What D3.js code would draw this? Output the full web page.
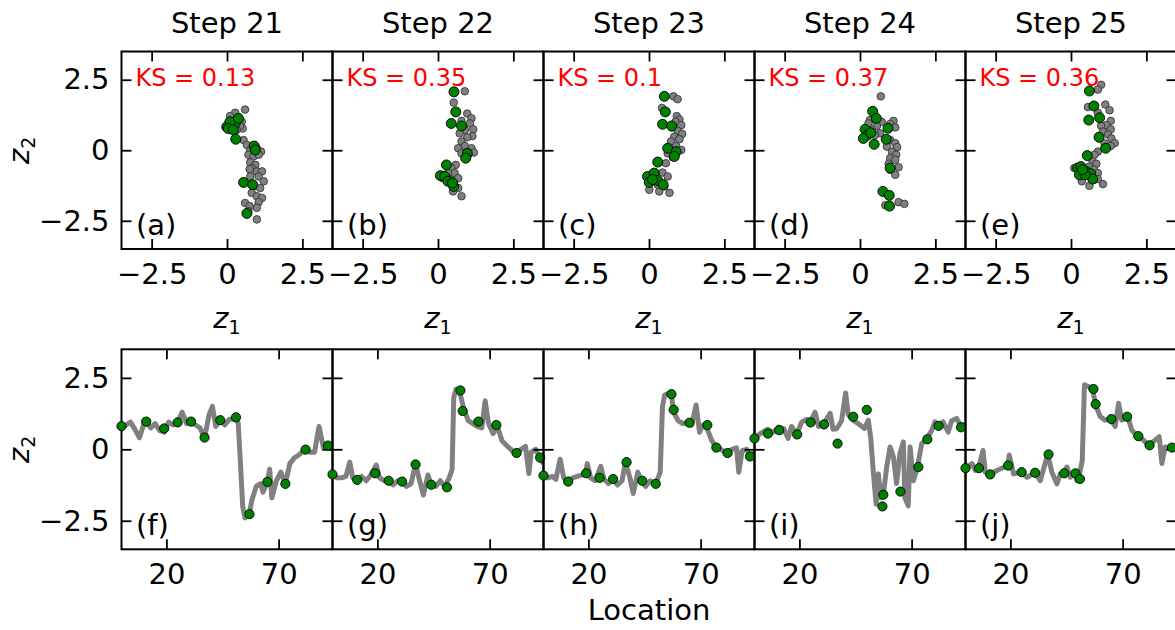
<!DOCTYPE html>
<html lang="en">
<head>
<meta charset="utf-8">
<script src="https://d3js.org/d3.v7.min.js"></script>
<style>
  body { margin: 0; background: #fff; }
  svg { display: block; font-family: "DejaVu Sans", sans-serif; }
</style>
</head>
<body>
<svg width="1175" height="630"></svg>
<script>
  // ---- data ----
  const stepTitles = ["Step 21", "Step 22", "Step 23", "Step 24", "Step 25"];
  const ksScores = [0.13, 0.35, 0.1, 0.37, 0.36];
  const topTags = ["(a)", "(b)", "(c)", "(d)", "(e)"];
  const bottomTags = ["(f)", "(g)", "(h)", "(i)", "(j)"];
  const latentTicks = [-2.5, 0, 2.5];
  const locationTicks = [20, 70];

  // latent scatter, [z1, z2]: all locations (grey) and sampled ones (green)
  const grayStep21 = [[0.60,1.44],[0.27,1.33],[0.10,1.21],[0.38,1.16],[0.49,1.01],[0.52,0.77],[0.16,0.81],[0.43,0.86],[0.55,0.36],[0.66,0.19],[0.77,0.01],[0.99,0.07],[1.13,-0.05],[0.71,-0.16],[0.88,-0.22],[1.05,-0.16],[0.77,-0.43],[0.94,-0.52],[0.82,-0.63],[0.75,-0.67],[0.99,-0.75],[1.16,-0.75],[0.77,-0.93],[1.05,-0.93],[1.22,-1.10],[0.88,-1.28],[1.10,-1.34],[0.82,-1.51],[0.99,-1.63],[1.16,-1.69],[1.05,-1.84],[0.60,-1.87],[0.99,-2.04],[0.75,-1.98],[0.71,-2.16],[0.99,-2.45],[0.38,1.07],[0.21,1.01],[0.04,0.95],[0.32,0.72]];
  const greenStep21 = [[-0.01,0.83],[0.27,0.95],[0.10,1.01],[0.38,1.13],[0.04,0.77],[0.21,0.72],[0.29,0.39],[0.90,0.15],[0.94,0.01],[0.55,-1.14],[0.85,-1.22],[0.66,-2.24]];

  const grayStep22 = [[0.89,2.09],[0.52,1.69],[0.97,1.30],[1.11,1.13],[0.78,1.04],[1.06,0.95],[1.17,0.74],[0.89,0.72],[0.72,0.60],[1.14,0.50],[0.97,0.46],[0.78,0.31],[0.89,0.15],[0.67,0.07],[1.11,0.07],[1.19,-0.08],[0.78,-0.11],[1.00,-0.16],[0.59,-0.52],[0.44,-0.63],[0.55,-0.81],[0.67,-0.99],[0.52,-1.16],[0.67,-1.34],[0.50,-1.46],[0.78,-1.63],[0.33,-0.81],[0.16,-0.99],[0.41,-1.04]];
  const greenStep22 = [[0.53,2.07],[0.59,1.36],[0.44,0.95],[0.78,0.86],[0.97,-0.11],[0.92,-0.28],[0.28,-0.52],[0.08,-0.90],[0.22,-0.93],[0.33,-1.10],[0.52,-1.28],[0.48,-1.16]];

  const grayStep23 = [[0.81,1.91],[0.95,1.81],[0.43,1.50],[0.92,1.21],[1.01,1.09],[0.88,1.01],[1.07,0.89],[0.76,0.81],[0.95,0.69],[1.10,0.58],[0.84,0.48],[1.01,0.39],[0.73,0.31],[0.90,0.15],[1.07,0.01],[0.62,-0.11],[0.79,-0.25],[0.56,-0.46],[0.45,-0.79],[0.62,-0.93],[0.12,-0.93],[0.01,-1.40],[0.34,-1.46],[0.68,-1.51],[0.51,-1.28],[0.29,-1.22]];
  const greenStep23 = [[0.51,1.91],[0.54,1.36],[0.45,0.92],[0.75,0.86],[0.62,0.07],[0.90,-0.05],[0.84,-0.22],[0.29,-0.42],[-0.05,-0.93],[0.17,-0.81],[0.01,-1.14],[0.29,-1.07],[0.47,-1.22],[0.12,-1.04]];

  const grayStep24 = [[0.69,1.91],[1.11,1.04],[1.00,0.93],[1.17,0.81],[0.72,1.01],[0.56,0.86],[0.39,0.74],[0.22,0.66],[0.67,0.60],[0.50,0.54],[1.00,0.36],[1.17,0.25],[0.89,0.13],[1.23,0.11],[1.06,-0.05],[1.20,-0.16],[1.00,-0.28],[1.17,-0.34],[0.95,-0.48],[1.28,-0.60],[1.00,-0.69],[1.17,-0.87],[0.84,-1.95],[1.28,-1.84],[1.47,-1.90],[0.33,1.07],[0.28,0.95]];
  const greenStep24 = [[0.42,1.38],[0.54,1.13],[0.93,0.78],[0.17,0.74],[0.25,0.54],[0.11,0.42],[0.36,0.62],[0.87,0.39],[0.47,0.21],[1.00,-0.63],[0.76,-1.46],[0.97,-1.60],[0.98,-1.98]];

  const grayStep25 = [[1.00,2.32],[0.89,2.15],[0.56,1.53],[1.14,1.62],[1.28,1.42],[0.89,1.33],[1.32,1.04],[1.17,0.89],[1.00,0.86],[1.32,0.74],[1.06,0.66],[1.23,0.56],[0.91,0.48],[1.34,0.42],[1.45,0.25],[1.11,0.25],[1.32,0.15],[0.89,-0.05],[0.78,-0.16],[0.72,-0.40],[0.84,-0.48],[0.61,-0.58],[0.76,-0.69],[0.89,-0.81],[0.78,-1.04],[0.36,-1.10],[0.61,-1.26],[1.06,-1.20],[0.89,-1.02],[0.11,-0.63]];
  const greenStep25 = [[0.61,2.10],[0.76,1.57],[0.59,1.07],[0.95,1.15],[0.93,0.46],[1.15,0.07],[0.54,-0.19],[0.22,-0.63],[0.33,-0.58],[0.28,-0.87],[0.50,-0.75],[0.65,-0.83],[0.72,-1.02],[0.47,-0.87],[0.39,-0.69]];

  // z2 along location, [location, z2]: full profile (grey line) and sampled locations (green)
  const profileStep21 = [[0,0.8],[2,0.85],[4,0.95],[6,0.7],[8,0.4],[10,0.9],[11,0.97],[13,0.75],[15,0.9],[17,0.65],[19,0.6],[21,0.95],[23,0.85],[25,0.95],[27,1.3],[29,0.9],[31,0.95],[33,0.85],[35,0.75],[37,0.4],[39,1.2],[40.5,1.5],[42,0.8],[44,1.05],[46,0.85],[48,1.05],[50,1.05],[51,1.12],[52,0.9],[53,-0.5],[54,-2.0],[55,-2.4],[57,-2.25],[58,-1.8],[60,-1.3],[62,-1.2],[63,-1.5],[65,-1.15],[66,-0.7],[67,-1.7],[69,-1.1],[71,-0.8],[73,-1.2],[75,-0.5],[77,-0.3],[79,-0.2],[81,-0.05],[82,0.0],[84,-0.1],[86,-0.1],[88,0.8],[90,0.05],[92,0.13],[94,0.0]];
  const sampledStep21 = [[0,0.81],[11,0.97],[19,0.73],[25,0.94],[31,0.97],[37,0.41],[44,1.02],[51,1.12],[57,-2.27],[65,-1.14],[73,-1.21],[82,-0.01],[92,0.13]];

  const profileStep22 = [[0,-0.85],[2,-1.0],[4,-1.0],[6,-0.95],[7.7,-0.45],[9,-1.0],[11,-1.07],[13,-0.95],[15,-1.1],[17,-0.9],[19.5,-0.55],[21,-1.0],[23,-1.1],[25,-1.1],[27,-1.25],[29,-1.1],[31,-1.13],[33,-1.3],[35,-1.2],[37,-0.5],[38.8,-1.1],[40.5,-1.6],[42.5,-0.9],[44,-1.24],[46,-1.3],[48,-1.1],[50,-1.3],[52,-1.0],[53.3,-0.7],[54,1.8],[55,2.1],[56,2.1],[57,1.9],[58.5,1.4],[60.5,1.0],[62.5,0.9],[64.5,0.8],[66.5,0.75],[68,1.7],[69.5,0.9],[71.5,0.55],[73.5,0.8],[75.5,0.3],[78,0.1],[81.5,-0.15],[84,0.0],[86,0.1],[87.5,-0.85],[88.5,-0.1],[90.5,0.0],[93,-0.4],[94,-0.5]];
  const sampledStep22 = [[0,-0.88],[11,-1.07],[19,-0.84],[25,-1.10],[31,-1.13],[37,-0.53],[44,-1.24],[51,-1.33],[57,2.06],[58,1.34],[65,0.97],[73,0.85],[82,-0.13],[92.5,-0.29]];

  const profileStep23 = [[0,-0.9],[2,-1.0],[4,-0.95],[5.5,-1.05],[7.4,-0.35],[9,-1.0],[11,-1.13],[13,-1.0],[15,-0.95],[17,-0.9],[18.7,-0.84],[19.5,-0.5],[21,-1.0],[23,-1.1],[25.5,-0.6],[27,-1.05],[29,-1.2],[31,-1.04],[33,-1.25],[35,-1.1],[36.5,-0.45],[38.5,-1.0],[40,-1.55],[42,-0.8],[43.5,-1.1],[45.5,-1.3],[47.5,-1.1],[50,-1.21],[52,-0.8],[53,1.5],[54,1.9],[55.5,1.95],[57,1.9],[58,1.3],[60,1.0],[62,0.9],[64.7,0.93],[66,0.85],[68,1.55],[69.5,0.6],[71,0.85],[73,0.7],[75,0.3],[77,0.06],[79,0.0],[81.5,-0.13],[84,0.0],[86,0.05],[87,-0.8],[88.5,-0.05],[90.5,0.0],[92,-0.25],[94,-0.1]];
  const sampledStep23 = [[0,-0.92],[11,-1.13],[19,-0.84],[25,-1.00],[31,-1.04],[37,-0.45],[44,-1.10],[50,-1.21],[57,1.93],[58,1.38],[65,0.93],[73,0.85],[77,0.06],[82,-0.13],[92,-0.25]];

  const profileStep24 = [[0,0.38],[2.5,0.55],[5.8,0.7],[8.5,0.6],[10.7,0.78],[13,0.72],[15,0.38],[16.5,0.8],[18.8,0.52],[21,0.95],[23.3,1.05],[24.8,0.94],[27,1.3],[28.5,0.8],[30.7,0.87],[33.7,1.26],[35,0.7],[36.6,0.72],[38.8,1.0],[40.6,1.97],[41.8,1.2],[44,1.02],[47,0.85],[49,0.73],[50.7,1.02],[51.8,0.38],[53,-0.86],[54.2,-1.92],[55.2,-0.86],[56.2,-1.7],[57.4,-1.59],[58.9,-0.62],[60.4,0.08],[61.9,-0.27],[63.3,-1.2],[64.8,-0.15],[66.3,0.26],[67,-1.7],[68.5,-1.98],[69.3,0.08],[70.8,-1.1],[72.6,-0.62],[74.5,0.2],[76.7,0.35],[79,0.67],[80.4,0.96],[81.9,0.82],[84,0.96],[86.3,0.6],[87.8,1.0],[90,1.08],[92.3,0.77],[94,0.9]];
  const sampledStep24 = [[0,0.38],[6,0.55],[11,0.67],[19,0.52],[25,0.94],[31,0.87],[37,0.20],[44,1.14],[50,1.38],[57.4,-1.59],[57,-2.00],[65,-1.48],[73,-0.62],[77,0.35],[82,0.82],[92,0.77]];

  const profileStep25 = [[0,-0.66],[2.9,-0.5],[4.4,-0.74],[5.8,-0.66],[7.8,-0.04],[8.8,-0.8],[10.7,-0.88],[14,-0.74],[18.8,-0.57],[19.5,-0.2],[21.4,-0.86],[24.7,-0.8],[27.4,-0.98],[31.1,-0.82],[33.3,-1.1],[36.6,-0.18],[38.5,-0.8],[40.7,-1.21],[42.2,-0.86],[43.7,-0.84],[45.2,-0.62],[46.7,-0.98],[48.6,-0.84],[49.6,-1.1],[51.1,-0.75],[52,-0.4],[53,2.26],[54.8,2.2],[56.7,2.11],[57.8,1.58],[60,1.15],[62.2,1.02],[64.5,1.06],[66.7,0.8],[68.2,1.61],[69.6,1.02],[72.3,1.14],[74.1,0.67],[76.8,0.46],[79.3,0.32],[81.5,0.14],[84.5,0.32],[86.3,0.44],[87.5,-0.5],[88.9,0.08],[92.2,0.06],[94,0.1]];
  const sampledStep25 = [[0,-0.66],[6,-0.66],[11,-0.88],[19,-0.57],[25,-0.80],[31,-0.82],[37,-0.18],[44,-0.84],[49,-0.84],[51,-1.04],[57,2.11],[58,1.58],[65,1.06],[72,1.14],[77,0.46],[82,0.14],[92,0.06]];

  const grayScatter = [grayStep21, grayStep22, grayStep23, grayStep24, grayStep25];
  const greenScatter = [greenStep21, greenStep22, greenStep23, greenStep24, greenStep25];
  const profiles = [profileStep21, profileStep22, profileStep23, profileStep24, profileStep25];
  const sampled = [sampledStep21, sampledStep22, sampledStep23, sampledStep24, sampledStep25];

  // ---- layout ----
  const svg = d3.select("svg");
  const left = 121.5, panelW = 211;
  const topY = 51.5, topH = 197.5;
  const botY = 349.3, botH = 200;
  const tickLen = 10;
  const bigFont = 29;

  const zx = d3.scaleLinear().domain([-3.5, 3.5]).range([0, panelW]);
  const zy = d3.scaleLinear().domain([-3.5, 3.5]).range([topH, 0]);
  const lx = d3.scaleLinear().domain([0, 94]).range([0, panelW]);
  const ly = d3.scaleLinear().domain([-3.5, 3.5]).range([botH, 0]);

  const latentFmt = v => v === 0 ? "0" : d3.format(".1f")(v);

  function styleAxis(a) {
    a.select(".domain").remove();
    a.selectAll(".tick line").attr("stroke", "#000").attr("stroke-width", 1.8);
    a.selectAll(".tick text")
      .attr("font-size", bigFont)
      .attr("font-family", "DejaVu Sans")
      .attr("fill", "#000");
  }

  // frame with inward ticks on all four sides
  function frame(g, xs, ys, h, xticks, yticks, xfmt, yfmt, showY) {
    g.append("g").attr("transform", `translate(0,${h})`)
      .call(d3.axisBottom(xs).tickValues(xticks).tickSizeInner(-tickLen).tickSizeOuter(0).tickPadding(14).tickFormat(xfmt))
      .call(styleAxis);
    g.append("g")
      .call(d3.axisTop(xs).tickValues(xticks).tickSizeInner(-tickLen).tickSizeOuter(0).tickFormat(""))
      .call(styleAxis);
    g.append("g")
      .call(d3.axisLeft(ys).tickValues(yticks).tickSizeInner(-tickLen).tickSizeOuter(0).tickPadding(12)
        .tickFormat(showY ? yfmt : ""))
      .call(styleAxis);
    g.append("g").attr("transform", `translate(${panelW},0)`)
      .call(d3.axisRight(ys).tickValues(yticks).tickSizeInner(-tickLen).tickSizeOuter(0).tickFormat(""))
      .call(styleAxis);
    g.append("rect")
      .attr("width", panelW).attr("height", h)
      .attr("fill", "none").attr("stroke", "#000").attr("stroke-width", 2);
  }

  function zLabel(text, sub) {
    text.append("tspan").attr("font-style", "italic").text("z");
    text.append("tspan").attr("font-size", 19).attr("dy", 6).text(sub);
  }

  stepTitles.forEach((title, i) => {
    const x0 = left + i * panelW;

    svg.append("text")
      .attr("x", x0 + panelW / 2).attr("y", 33)
      .attr("text-anchor", "middle").attr("font-size", bigFont)
      .text(title);

    // ---- top row: latent scatter ----
    const gt = svg.append("g").attr("transform", `translate(${x0},${topY})`);

    gt.append("g").selectAll("circle")
      .data(grayScatter[i]).join("circle")
      .attr("cx", d => zx(d[0])).attr("cy", d => zy(d[1]))
      .attr("r", 3.8)
      .attr("fill", "#808080").attr("stroke", "#2b2b2b").attr("stroke-width", 0.8);

    gt.append("g").selectAll("circle")
      .data(greenScatter[i]).join("circle")
      .attr("cx", d => zx(d[0])).attr("cy", d => zy(d[1]))
      .attr("r", 5)
      .attr("fill", "#008000").attr("stroke", "#000").attr("stroke-width", 0.9);

    frame(gt, zx, zy, topH, latentTicks, latentTicks, latentFmt, latentFmt, i === 0);

    gt.append("text")
      .attr("x", 14).attr("y", 34)
      .attr("font-size", 24).attr("fill", "#ff0000")
      .text(`KS = ${ksScores[i]}`);

    gt.append("text")
      .attr("x", 14.5).attr("y", topH - 14)
      .attr("font-size", bigFont)
      .text(topTags[i]);

    svg.append("text")
      .attr("x", x0 + panelW / 2).attr("y", 328)
      .attr("text-anchor", "middle").attr("font-size", bigFont)
      .call(zLabel, "1");

    // ---- bottom row: z2 along location ----
    const gb = svg.append("g").attr("transform", `translate(${x0},${botY})`);

    gb.append("clipPath").attr("id", `clip${i}`)
      .append("rect").attr("width", panelW).attr("height", botH);

    gb.append("path")
      .datum(profiles[i])
      .attr("clip-path", `url(#clip${i})`)
      .attr("fill", "none")
      .attr("stroke", "#808080")
      .attr("stroke-width", 5)
      .attr("stroke-linejoin", "round")
      .attr("d", d3.line().x(d => lx(d[0])).y(d => ly(d[1])));

    frame(gb, lx, ly, botH, locationTicks, latentTicks, d3.format("d"), latentFmt, i === 0);

    gb.append("g").selectAll("circle")
      .data(sampled[i]).join("circle")
      .attr("cx", d => lx(d[0])).attr("cy", d => ly(d[1]))
      .attr("r", 4.6)
      .attr("fill", "#008000").attr("stroke", "#000").attr("stroke-width", 0.9);

    gb.append("text")
      .attr("x", 14.5).attr("y", botH - 14)
      .attr("font-size", bigFont)
      .text(bottomTags[i]);
  });

  // y labels
  [topY + topH / 2, botY + botH / 2].forEach(cy => {
    svg.append("text")
      .attr("transform", `translate(29,${cy}) rotate(-90)`)
      .attr("text-anchor", "middle").attr("font-size", bigFont)
      .call(zLabel, "2");
  });

  svg.append("text")
    .attr("x", left + 2.5 * panelW).attr("y", 620)
    .attr("text-anchor", "middle").attr("font-size", bigFont)
    .text("Location");
</script>
</body>
</html>
